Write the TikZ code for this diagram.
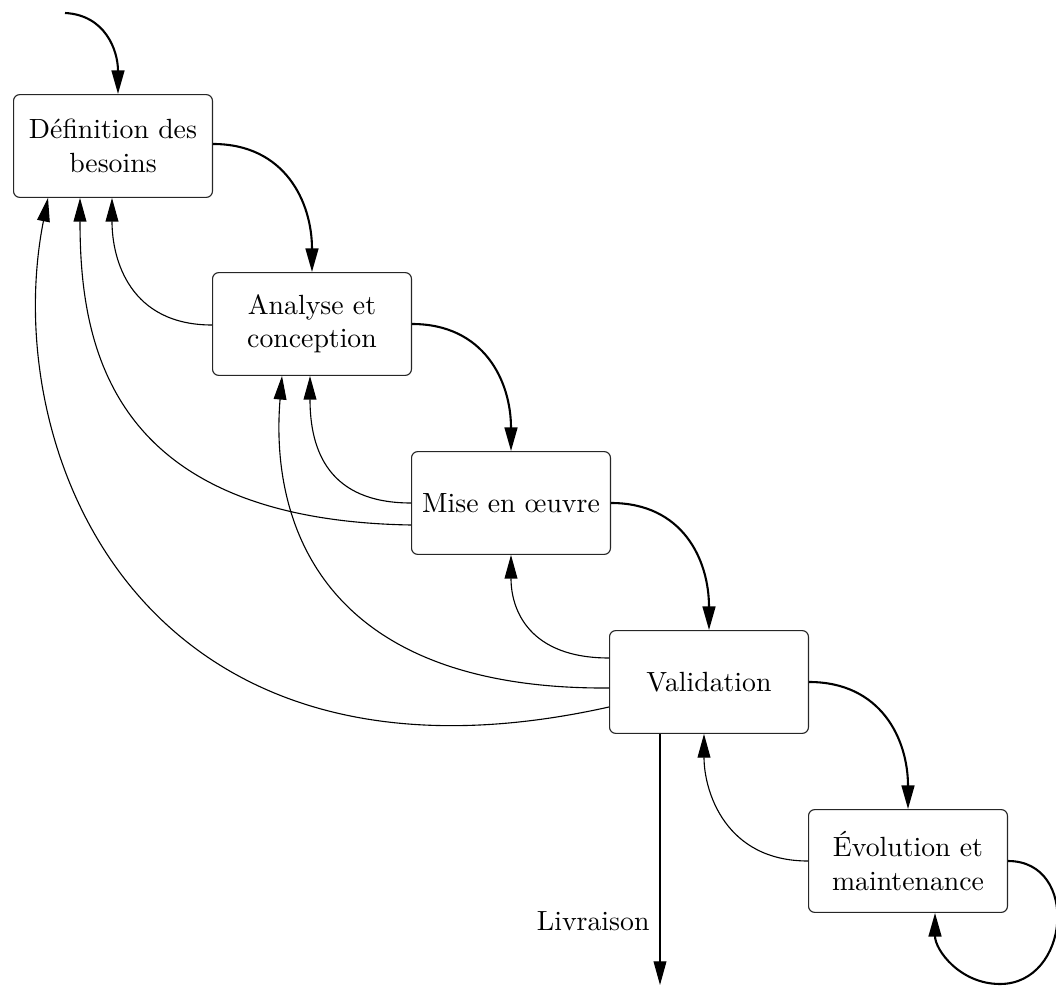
\documentclass[tikz,border=0pt]{standalone}
\usepackage{fontspec}
\usetikzlibrary{arrows.meta}
\begin{document}
\begin{tikzpicture}[x=0.36pt,y=-0.36pt,
  box/.style={draw=black!85, line width=0.4pt, rounded corners=2.2pt,
    minimum width=71.6pt, minimum height=37pt, inner sep=0pt, align=center},
  tip/.style={-{Triangle[length=8.5pt,width=4.6pt]}},
  fwd/.style={tip, line width=0.75pt},
  back/.style={tip, line width=0.4pt}]
\useasboundingbox (0,0) rectangle (1056,987);
\node[box] (b1) at (113,146) {Définition des\\besoins};
\node[box] (b2) at (312,324) {Analyse et\\conception};
\node[box] (b3) at (511,503) {Mise en œuvre};
\node[box] (b4) at (709,682) {Validation};
\node[box] (b5) at (908,861) {Évolution et\\maintenance};
\coordinate (start) at (65,13);
\coordinate (loopbot) at (1000,984);
\coordinate (livend) at (660,985);
\node[anchor=east, inner sep=0pt] (livlab) at (650,921) {Livraison};
% forward
\draw[fwd] (start) .. controls +(40,2) and +(0,-44) .. ([shift={(5,0)}]b1.north);
\draw[fwd] ([shift={(0,-2)}]b1.east) .. controls +(72,0) and +(0,-70) .. (b2.north);
\draw[fwd] (b2.east) .. controls +(72,0) and +(0,-70) .. (b3.north);
\draw[fwd] (b3.east) .. controls +(72,0) and +(0,-70) .. (b4.north);
\draw[fwd] (b4.east) .. controls +(72,0) and +(0,-70) .. (b5.north);
% back
\draw[back] ([shift={(0,1)}]b2.west) .. controls +(-82,0) and +(0,62) .. ([shift={(-1,0)}]b1.south);
\draw[back] (b3.west) .. controls +(-82,0) and +(0,75) .. ([shift={(-2,0)}]b2.south);
\draw[back] ([shift={(0,22)}]b3.west) .. controls +(-300,-5) and +(0,150) .. ([shift={(-33,0)}]b1.south);
\draw[back] ([shift={(0,-24)}]b4.west) .. controls +(-79,0) and +(0,56) .. (b3.south);
\draw[back] ([shift={(0,6)}]b4.west) .. controls +(-289,2) and +(-12,145) .. ([shift={(-30,0)}]b2.south);
\draw[back] ([shift={(0,25)}]b4.west) .. controls +(-470,105) and +(-50,252) .. ([shift={(-65,0)}]b1.south);
\draw[back] (b5.west) .. controls +(-83,0) and +(0,57) .. ([shift={(-5,0)}]b4.south);
\draw[fwd] (b5.east) .. controls +(72,0) and +(70,0) .. (loopbot) .. controls +(-40,0) and +(0,37) .. ([shift={(27,0)}]b5.south);
\draw[back] ([shift={(-49,0)}]b4.south) -- (livend);
\end{tikzpicture}
\end{document}
